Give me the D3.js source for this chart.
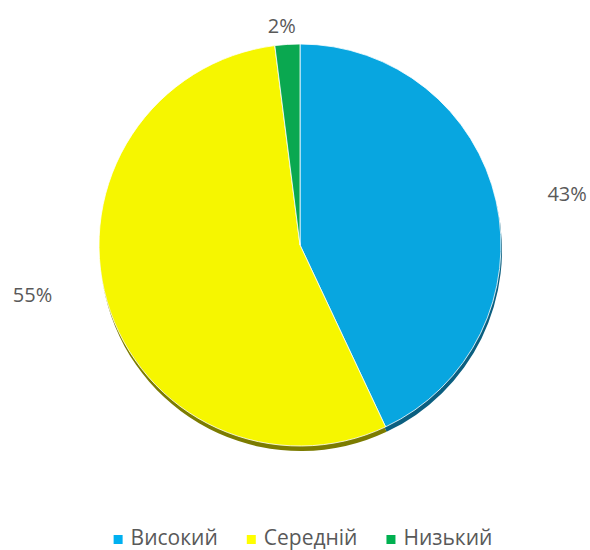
<!DOCTYPE html>
<html>
<head>
<meta charset="utf-8">
<script src="https://cdn.jsdelivr.net/npm/d3@7"></script>
<style>
  body { margin: 0; background: #fff; }
  text { font-family: "Open Sans", "Noto Sans", sans-serif; fill: #595959; }
</style>
</head>
<body>
<svg id="chart" width="590" height="550"></svg>
<script>
const categories = ["Високий", "Середній", "Низький"];
const values = [43, 55, 2];
const labels = ["43%", "55%", "2%"];

const sliceColors = ["#08a6e0", "#f6f600", "#0aa850"];
const shadeColors = ["#0b5f80", "#7c7c00", "#06603a"];
const legendColors = ["#00b0f0", "#ffff00", "#00b050"];

// label placement (Excel best-fit), radius and angle nudge per slice
const labelRadius = [272, 272, 220];
const labelShift = [0.03, 0.1, -0.02];

translate = function(a, b) {
  return "translate(" + a + ", " + b + ")";
}

const svg = d3.select("#chart");
const cx = 300, cy = 245, r = 201;

const pie = d3.pie().sort(null).value(d => d);
const arcs = pie(values);
const arc = d3.arc().innerRadius(0).outerRadius(r);

let plot = svg.append("g").attr("transform", translate(cx, cy));

// bevel shadow under the bottom edge
plot.append("g")
  .attr("transform", translate(1, 5))
  .selectAll("path")
  .data(arcs)
  .enter()
  .append("path")
  .attr("d", arc)
  .attr("fill", (d, i) => shadeColors[i]);

plot.append("g")
  .selectAll("path")
  .data(arcs)
  .enter()
  .append("path")
  .attr("d", arc)
  .attr("fill", (d, i) => sliceColors[i])
  .attr("stroke", "#ffffff")
  .attr("stroke-width", 0.8);

// data labels
plot.selectAll("text.label")
  .data(arcs)
  .enter()
  .append("text")
  .attr("class", "label")
  .attr("text-anchor", "middle")
  .attr("dominant-baseline", "central")
  .style("font-size", "20px")
  .attr("x", (d, i) => labelRadius[i] * Math.sin((d.startAngle + d.endAngle) / 2 + labelShift[i]))
  .attr("y", (d, i) => -labelRadius[i] * Math.cos((d.startAngle + d.endAngle) / 2 + labelShift[i]))
  .text((d, i) => labels[i]);

// legend
let legend = svg.append("g").attr("id", "legend");
let items = legend.selectAll("g")
  .data(categories)
  .enter()
  .append("g");

items.append("rect")
  .attr("y", -10)
  .attr("width", 9)
  .attr("height", 9)
  .attr("fill", (d, i) => legendColors[i]);

items.append("text")
  .attr("x", 17)
  .attr("y", 0)
  .style("font-size", "21px")
  .text(d => d);

// lay out legend items in a centred row
let x = 0;
const gap = 29;
items.each(function() {
  let g = d3.select(this);
  let w = this.getBBox().width;
  g.attr("transform", translate(x, 0));
  x += w + gap;
});
let total = x - gap;
legend.attr("transform", translate((606 - total) / 2, 545));
</script>
</body>
</html>
